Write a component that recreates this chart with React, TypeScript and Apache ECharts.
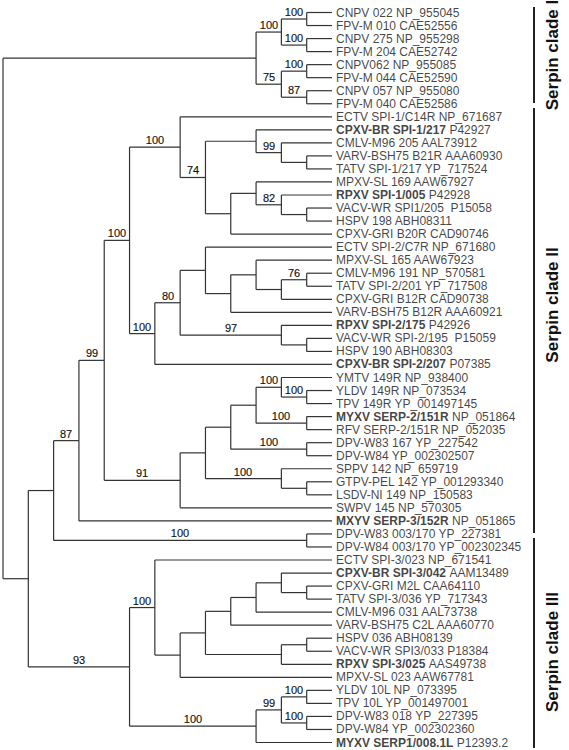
import React, { useEffect, useRef } from "react";
import * as echarts from "echarts";

// ---- Leaf labels (top to bottom) ----
const leafStrain: string[] = [
  "CNPV 022", "FPV-M 010", "CNPV 275", "FPV-M 204", "CNPV062", "FPV-M 044", "CNPV 057", "FPV-M 040",
  "ECTV SPI-1/C14R", "CPXV-BR SPI-1/217", "CMLV-M96 205", "VARV-BSH75 B21R", "TATV SPI-1/217",
  "MPXV-SL 169", "RPXV SPI-1/005", "VACV-WR SPI1/205", "HSPV 198", "CPXV-GRI B20R",
  "ECTV SPI-2/C7R", "MPXV-SL 165", "CMLV-M96 191", "TATV SPI-2/201", "CPXV-GRI B12R",
  "VARV-BSH75 B12R", "RPXV SPI-2/175", "VACV-WR SPI-2/195", "HSPV 190", "CPXV-BR SPI-2/207",
  "YMTV 149R", "YLDV 149R", "TPV 149R", "MYXV SERP-2/151R", "RFV SERP-2/151R", "DPV-W83 167",
  "DPV-W84", "SPPV 142", "GTPV-PEL 142", "LSDV-NI 149", "SWPV 145", "MXYV SERP-3/152R",
  "DPV-W83 003/170", "DPV-W84 003/170", "ECTV SPI-3/023", "CPXV-BR SPI-3/042", "CPXV-GRI M2L",
  "TATV SPI-3/036", "CMLV-M96 031", "VARV-BSH75 C2L", "HSPV 036", "VACV-WR SPI3/033",
  "RPXV SPI-3/025", "MPXV-SL 023", "YLDV 10L", "TPV 10L", "DPV-W83 018", "DPV-W84",
  "MYXV SERP1/008.1L",
];
const leafAccession: string[] = [
  "NP_955045", "CAE52556", "NP_955298", "CAE52742", "NP_955085", "CAE52590", "NP_955080", "CAE52586",
  "NP_671687", "P42927", "AAL73912", "AAA60930", "YP_717524",
  "AAW67927", "P42928", " P15058", "ABH08311", "CAD90746",
  "NP_671680", "AAW67923", "NP_570581", "YP_717508", "CAD90738",
  "AAA60921", "P42926", " P15059", "ABH08303", "P07385",
  "NP_938400", "NP_073534", "YP_001497145", "NP_051864", "NP_052035", "YP_227542",
  "YP_002302507", "NP_659719", "YP_001293340", "NP_150583", "NP_570305", "NP_051865",
  "YP_227381", "YP_002302345", "NP_671541", "AAM13489", "CAA64110",
  "YP_717343", "AAL73738", "AAA60770", "ABH08139", "P18384",
  "AAS49738", "AAW67781", "NP_073395", "YP_001497001", "YP_227395", "YP_002302360",
  "P12393.2",
];
const boldLeaves: number[] = [10, 15, 25, 28, 32, 40, 44, 51, 57];

// ---- Tree topology: internal nodes (level = depth column, 0..13; leaves at 13) ----
const nodeNames: string[] = [
  "root", "A", "A1", "A1a", "A1b", "A2", "A2a", "A2b",
  "B", "C", "E", "G", "H", "H1", "J", "K", "K2", "K3", "L", "M", "N", "N2",
  "H2", "O", "P", "P2", "P3", "P4", "P5", "Q", "Q2",
  "I", "I1", "I4", "S", "S1", "S1a", "S2", "T", "I2", "I3", "F",
  "D", "D1", "U", "U1", "U2", "U3", "U4", "U4a", "U5", "U5a", "D2", "D3", "D3a", "D3b",
];
const nodeLevels: number[] = [
  0, 10, 11, 12, 12, 11, 12, 12,
  1, 2, 3, 4, 5, 7, 8, 10, 11, 12, 9, 10, 11, 12,
  6, 7, 8, 9, 10, 11, 12, 11, 12,
  7, 8, 9, 10, 11, 12, 12, 12, 11, 12, 12,
  5, 6, 7, 8, 9, 10, 11, 12, 11, 12, 10, 11, 12, 12,
];
const nodeSupport: (number | null)[] = [
  null, null, 100, 100, 100, 75, 100, 87,
  null, null, 87, 99, 100, 100, 74, null, 99, null, null, null, 82, null,
  100, 80, null, null, null, null, 76, 97, null,
  91, null, null, null, 100, 100, 100, 100, 100, null, 100,
  93, 100, null, null, null, null, null, null, null, null, 100, 99, 100, 100,
];
const nodeChildren: (string | number)[][] = [
  ["A", "B"], ["A1", "A2"], ["A1a", "A1b"], [1, 2], [3, 4], ["A2a", "A2b"], [5, 6], [7, 8],
  ["C", "D"], ["E", "F"], ["G", 40], ["H", "I"], ["H1", "H2"], [9, "J"], ["K", "L"], [10, "K2"],
  [11, "K3"], [12, 13], ["M", 18], [14, "N"], [15, "N2"], [16, 17],
  ["O", 28], ["P", "Q"], [19, "P2"], ["P3", 24], [20, "P4"], ["P5", 23], [21, 22], [25, "Q2"], [26, 27],
  ["I1", 39], ["I4", "I2"], ["S", "T"], ["S1", "S2"], [29, "S1a"], [30, 31], [32, 33], [34, 35],
  [36, "I3"], [37, 38], [41, 42],
  ["D1", "D2"], [43, "U"], ["U1", 52], ["U2", "U5"], ["U3", 48], ["U4", 47], [44, "U4a"], [45, 46],
  ["U5a", 51], [49, 50], ["D3", 57], ["D3a", "D3b"], [53, 54], [55, 56],
];

const cladeNames: string[] = ["Serpin clade I", "Serpin clade II", "Serpin clade III"];

const LEAF_LEVEL = 13;
const FONT = "'Liberation Sans', Arial, Helvetica, sans-serif";

function buildTree() {
  const idx: Record<string, number> = {};
  nodeNames.forEach((n, i) => (idx[n] = i));
  const yCache: Record<string, number> = {};
  const yOf = (c: string | number): number => {
    if (typeof c === "number") return c;
    if (yCache[c] !== undefined) return yCache[c];
    const ch = nodeChildren[idx[c]];
    const v = (yOf(ch[0]) + yOf(ch[ch.length - 1])) / 2;
    yCache[c] = v;
    return v;
  };
  const xOf = (c: string | number): number => (typeof c === "number" ? LEAF_LEVEL : nodeLevels[idx[c]]);
  const segments: number[][] = [];
  const supports: number[][] = [];
  nodeNames.forEach((name, i) => {
    const ch = nodeChildren[i];
    const x = nodeLevels[i];
    segments.push([x, yOf(ch[0]), x, yOf(ch[ch.length - 1])]);
    ch.forEach((c) => {
      const cy = yOf(c);
      const cx = xOf(c);
      segments.push([x, cy, cx, cy]);
      if (typeof c === "string") {
        const s = nodeSupport[idx[c]];
        if (s !== null && s !== undefined) supports.push([(x + cx) / 2, cy, s]);
      }
    });
  });
  return { segments, supports };
}

export default function App() {
  const ref = useRef<HTMLDivElement>(null);
  useEffect(() => {
    document.body.style.margin = "0";
    const chart = echarts.init(ref.current!, null, { renderer: "svg" });
    const { segments, supports } = buildTree();
    const leafData = leafStrain.map((_, i) => [LEAF_LEVEL, i + 1]);
    const leafText = leafStrain.map((s, i) =>
      boldLeaves.includes(i + 1) ? `{b|${s}} {n|${leafAccession[i].trim()}}` : `{n|${s} ${leafAccession[i]}}`
    );
    const bars = [
      [7, 103],
      [108, 533],
      [538, 748],
    ];
    const textCenters = [55, 305, 652];
    const graphic: any[] = [];
    bars.forEach((b, i) => {
      graphic.push({
        type: "line",
        shape: { x1: 534, y1: b[0], x2: 534, y2: b[1] },
        style: { stroke: "#222", lineWidth: 2 },
      });
      graphic.push({
        type: "text",
        x: 552,
        y: textCenters[i],
        rotation: Math.PI / 2,
        style: {
          text: cladeNames[i],
          font: `bold 17px ${FONT}`,
          fill: "#111",
          align: "center",
          verticalAlign: "middle",
          textAlign: "center",
          textVerticalAlign: "middle",
        },
      });
    });

    chart.setOption({
      animation: false,
      backgroundColor: "#fff",
      grid: { left: 3, top: 12.5, width: 329, height: 730 },
      xAxis: { type: "value", min: 0, max: 13, show: false },
      yAxis: { type: "value", min: 1, max: 57, inverse: true, show: false },
      graphic,
      series: [
        {
          type: "custom",
          silent: true,
          clip: false,
          encode: { x: [0, 2], y: [1, 3] },
          data: segments,
          renderItem: (params: any, api: any) => {
            const a = api.coord([api.value(0), api.value(1)]);
            const b = api.coord([api.value(2), api.value(3)]);
            return {
              type: "line",
              shape: { x1: a[0], y1: a[1], x2: b[0], y2: b[1] },
              style: { stroke: "#333", lineWidth: 1.2 },
            };
          },
        },
        {
          type: "scatter",
          silent: true,
          symbolSize: 0,
          data: leafData,
          label: {
            show: true,
            position: "right",
            distance: 4,
            formatter: (p: any) => leafText[p.dataIndex],
            fontSize: 12,
            fontFamily: FONT,
            color: "#111",
            rich: {
              b: { fontWeight: "bold", fontSize: 12, fontFamily: FONT, color: "#111" },
              n: { fontSize: 12, fontFamily: FONT, color: "#111" },
            },
          },
        },
        {
          type: "custom",
          silent: true,
          clip: false,
          data: supports,
          renderItem: (params: any, api: any) => {
            const p = api.coord([api.value(0), api.value(1)]);
            return {
              type: "text",
              x: Math.round(p[0]),
              y: Math.round(p[1] - 2),
              style: {
                text: String(api.value(2)),
                fill: "#111111",
                stroke: "#111111",
                lineWidth: 0.15,
                fontSize: 11,
                fontFamily: FONT,
                fontWeight: "normal",
                align: "center",
                verticalAlign: "bottom",
              },
            };
          },
        },
      ],
    });
    return () => chart.dispose();
  }, []);
  return <div ref={ref} style={{ width: 569, height: 750 }} />;
}
